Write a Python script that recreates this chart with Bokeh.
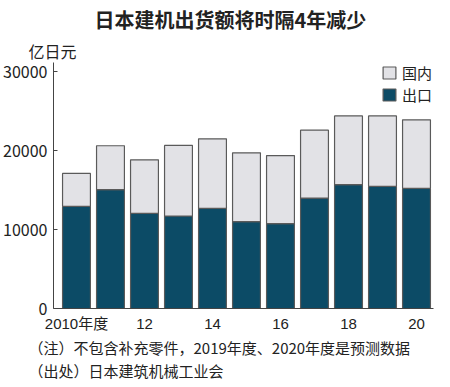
from bokeh.plotting import figure
from bokeh.models import (ColumnDataSource, Range1d, FixedTicker, Legend, LegendItem, Title)
from bokeh.embed import file_html
from bokeh.resources import INLINE

years = ["2010", "2011", "2012", "2013", "2014", "2015", "2016", "2017", "2018", "2019", "2020"]
total = [17130, 20640, 18860, 20680, 21520, 19750, 19400, 22620, 24430, 24430, 23930]
export = [12950, 15070, 12070, 11730, 12700, 11010, 10760, 14010, 15700, 15480, 15230]
domestic = [t - e for t, e in zip(total, export)]
tick_positions = [0, 2, 4, 6, 8, 10]
tick_labels = ["2010年度", "12", "14", "16", "18", "20"]
y_ticks = [0, 10000, 20000, 30000]

TEAL = "#0c4b66"
GRAY = "#e2e2e6"
EDGE = "#5a5a5a"
TXT = "#222222"
CJK = "Noto Sans CJK SC"
MIX = "Liberation Sans, Noto Sans CJK SC"

src = ColumnDataSource(dict(x=list(range(len(years))), export=export, domestic=domestic))

p = figure(frame_width=380, frame_height=246, output_backend="svg", toolbar_location=None,
           x_range=Range1d(-0.676, 10.5), y_range=Range1d(0, 31200),
           min_border_left=44, min_border_right=10, min_border_top=54, min_border_bottom=71)
p.title = None
p.outline_line_color = None
p.grid.grid_line_color = None
p.background_fill_color = "white"
p.border_fill_color = "white"

r = p.vbar_stack(["export", "domestic"], x="x", width=0.82, source=src,
                 fill_color=[TEAL, GRAY], line_color=EDGE, line_width=1.2)

xa = p.xaxis[0]
xa.ticker = FixedTicker(ticks=tick_positions)
xa.major_label_overrides = {t: l for t, l in zip(tick_positions, tick_labels)}
xa.major_tick_line_color = None
xa.minor_tick_line_color = None
xa.axis_line_color = "#444444"
xa.major_label_text_font = MIX
xa.major_label_text_font_size = "15px"
xa.major_label_text_color = TXT
xa.major_label_standoff = 0

ya = p.yaxis[0]
ya.ticker = FixedTicker(ticks=y_ticks)
ya.major_tick_in = 4
ya.major_tick_out = 0
ya.minor_tick_line_color = None
ya.axis_line_color = "#444444"
ya.major_tick_line_color = "#444444"
ya.major_label_text_font = CJK
ya.major_label_text_font_size = "16px"
ya.major_label_text_color = TXT
ya.major_label_standoff = 6

legend = Legend(items=[LegendItem(label="国内", renderers=[r[1]]),
                       LegendItem(label="出口", renderers=[r[0]])],
                location=(328, 203), padding=0, margin=0, spacing=1,
                glyph_width=16, glyph_height=15, label_height=15,
                label_standoff=5, label_text_font=MIX, label_text_font_size="15px",
                label_text_color=TXT, border_line_color=None,
                background_fill_alpha=0)
p.add_layout(legend, "center")

p.add_layout(Title(text="亿日元", align="left", offset=-25, text_font=CJK,
                   text_font_size="16px", text_font_style="normal",
                   text_color=TXT, standoff=0), "above")
p.add_layout(Title(text="日本建机出货额将时隔4年减少", align="left", offset=41,
                   text_font=CJK, text_font_size="20px", text_font_style="bold",
                   text_color=TXT, standoff=5), "above")

for note in ["（注）不包含补充零件，2019年度、2020年度是预测数据", "（出处）日本建筑机械工业会"]:
    p.add_layout(Title(text=note, align="left", offset=-25, text_font=CJK,
                       text_font_size="15px", text_font_style="normal",
                       text_color=TXT, standoff=0), "below")

open("out.html", "w").write(file_html(p, INLINE))
